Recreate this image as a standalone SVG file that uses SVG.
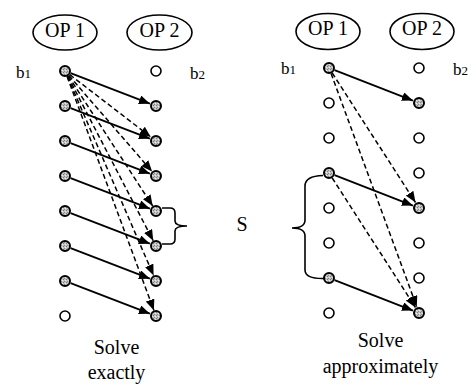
<svg xmlns="http://www.w3.org/2000/svg" width="476" height="391" viewBox="0 0 476 391">
  <style>
    text { font-family: "Liberation Serif", "Times New Roman", serif; fill: #000; }
    .op { font-size: 20px; text-anchor: middle; }
    .lbl { font-size: 17px; }
    .sub { font-size: 13px; }
    .cap { font-size: 20px; text-anchor: middle; }
    .oval { fill: #fff; stroke: #000; stroke-width: 1.6; }
    .full { fill: url(#speckle); stroke: #000; stroke-width: 2; }
    .empty { fill: #fff; stroke: #000; stroke-width: 1.6; }
    .solid { fill: none; stroke: #000; stroke-width: 1.8; marker-end: url(#head); }
    .dash { fill: none; stroke: #000; stroke-width: 1.5; stroke-dasharray: 5 3; marker-end: url(#head); }
    .brace { fill: none; stroke: #000; stroke-width: 1.6; }
  </style>
  <defs>
    <pattern id="speckle" width="3" height="3" patternUnits="userSpaceOnUse">
      <rect width="3" height="3" fill="#c4c4c4"/>
      <rect x="0" y="0" width="1" height="1" fill="#7a7a7a"/>
      <rect x="2" y="1" width="1" height="1" fill="#eeeeee"/>
      <rect x="1" y="2" width="1" height="1" fill="#8a8a8a"/>
    </pattern>
    <marker id="head" markerUnits="userSpaceOnUse" markerWidth="11" markerHeight="9" refX="11" refY="4.5" orient="auto">
      <path d="M0,0 L11,4.5 L0,9 z" fill="#000"/>
    </marker>
  </defs>

  <!-- Operation headers -->
  <g id="op1-left"><ellipse class="oval" cx="65" cy="32.5" rx="32" ry="17.5"/><text class="op" x="65" y="37">OP 1</text></g>
  <g id="op2-left"><ellipse class="oval" cx="159.5" cy="32.5" rx="32.5" ry="17.5"/><text class="op" x="159.5" y="37">OP 2</text></g>
  <g id="op1-right"><ellipse class="oval" cx="328" cy="31.5" rx="32" ry="18"/><text class="op" x="328" y="35">OP 1</text></g>
  <g id="op2-right"><ellipse class="oval" cx="422" cy="31.5" rx="32" ry="18"/><text class="op" x="422" y="35">OP 2</text></g>

  <!-- Buffer labels -->
  <text class="lbl" x="16" y="78">b<tspan class="sub">1</tspan></text>
  <text class="lbl" x="190" y="79">b<tspan class="sub">2</tspan></text>
  <text class="lbl" x="281" y="74">b<tspan class="sub">1</tspan></text>
  <text class="lbl" x="453" y="75">b<tspan class="sub">2</tspan></text>

  <!-- Connectors -->
  <g id="connectors">
    <!-- left: exact solution -->
    <path class="dash" d="M69.8,74.7 L150.8,137"/>
    <path class="dash" d="M68.9,75.5 L152.1,171.5"/>
    <path class="dash" d="M68.3,76 L152.7,206"/>
    <path class="dash" d="M67.8,76.3 L153.2,240.7"/>
    <path class="dash" d="M67.4,76.5 L153.6,275.5"/>
    <path class="dash" d="M67.1,76.6 L153.9,310.4"/>
    <path class="solid" d="M70.6,73.2 L149.9,103.7"/>
    <path class="solid" d="M70.6,108.2 L149.9,138.7"/>
    <path class="solid" d="M70.6,143.2 L149.9,173.7"/>
    <path class="solid" d="M70.6,178.2 L149.9,208.7"/>
    <path class="solid" d="M70.6,213.2 L149.9,243.7"/>
    <path class="solid" d="M70.6,248.2 L149.9,278.7"/>
    <path class="solid" d="M70.6,283.2 L149.9,313.7"/>
    <!-- right: approximate solution -->
    <path class="dash" d="M332.2,73 L415.5,202.5"/>
    <path class="dash" d="M331.1,73.6 L416.8,306.9"/>
    <path class="dash" d="M332.2,178 L415.5,307.5"/>
    <path class="solid" d="M334.6,70.2 L412.9,100.6"/>
    <path class="solid" d="M334.6,175.2 L412.9,205.6"/>
    <path class="solid" d="M334.6,280.2 L412.9,310.6"/>
  </g>

  <!-- Left OP 1 buffer slots -->
  <g id="l1-0"><circle class="full" cx="65" cy="71" r="5"/></g>
  <g id="l1-1"><circle class="full" cx="65" cy="106" r="5"/></g>
  <g id="l1-2"><circle class="full" cx="65" cy="141" r="5"/></g>
  <g id="l1-3"><circle class="full" cx="65" cy="176" r="5"/></g>
  <g id="l1-4"><circle class="full" cx="65" cy="211" r="5"/></g>
  <g id="l1-5"><circle class="full" cx="65" cy="246" r="5"/></g>
  <g id="l1-6"><circle class="full" cx="65" cy="281" r="5"/></g>
  <g id="l1-7"><circle class="empty" cx="65" cy="316" r="5"/></g>
  <!-- Left OP 2 buffer slots -->
  <g id="l2-0"><circle class="empty" cx="156" cy="71" r="5"/></g>
  <g id="l2-1"><circle class="full" cx="156" cy="106" r="5"/></g>
  <g id="l2-2"><circle class="full" cx="156" cy="141" r="5"/></g>
  <g id="l2-3"><circle class="full" cx="156" cy="176" r="5"/></g>
  <g id="l2-4"><circle class="full" cx="156" cy="211" r="5"/></g>
  <g id="l2-5"><circle class="full" cx="156" cy="246" r="5"/></g>
  <g id="l2-6"><circle class="full" cx="156" cy="281" r="5"/></g>
  <g id="l2-7"><circle class="full" cx="156" cy="316" r="5"/></g>

  <!-- Right OP 1 buffer slots -->
  <g id="r1-0"><circle class="full" cx="329" cy="68" r="5"/></g>
  <g id="r1-1"><circle class="empty" cx="329" cy="103" r="5"/></g>
  <g id="r1-2"><circle class="empty" cx="329" cy="138" r="5"/></g>
  <g id="r1-3"><circle class="full" cx="329" cy="173" r="5"/></g>
  <g id="r1-4"><circle class="empty" cx="329" cy="208" r="5"/></g>
  <g id="r1-5"><circle class="empty" cx="329" cy="243" r="5"/></g>
  <g id="r1-6"><circle class="full" cx="329" cy="278" r="5"/></g>
  <g id="r1-7"><circle class="empty" cx="329" cy="313" r="5"/></g>
  <!-- Right OP 2 buffer slots -->
  <g id="r2-0"><circle class="empty" cx="419" cy="68" r="5"/></g>
  <g id="r2-1"><circle class="full" cx="419" cy="103" r="5"/></g>
  <g id="r2-2"><circle class="empty" cx="419" cy="138" r="5"/></g>
  <g id="r2-3"><circle class="empty" cx="419" cy="173" r="5"/></g>
  <g id="r2-4"><circle class="full" cx="419" cy="208" r="5"/></g>
  <g id="r2-5"><circle class="empty" cx="419" cy="243" r="5"/></g>
  <g id="r2-6"><circle class="empty" cx="419" cy="278" r="5"/></g>
  <g id="r2-7"><circle class="full" cx="419" cy="313" r="5"/></g>

  <!-- Span S braces -->
  <g id="span-s">
    <path class="brace" d="M162,208 H170 Q175,208 175,213 V221 Q175,226 187,226 Q175,226 175,231 V239 Q175,244 170,244 H162"/>
    <path class="brace" d="M323,175.5 Q305,176 305,186 V220 Q305,228 292,228 Q305,228 305,236 V270 Q305,279 324,278.5"/>
    <text class="op" x="242" y="231">S</text>
  </g>

  <!-- Captions -->
  <text class="cap" x="116.5" y="354">Solve</text>
  <text class="cap" x="116.5" y="379">exactly</text>
  <text class="cap" x="380.5" y="347">Solve</text>
  <text class="cap" x="380.5" y="373">approximately</text>
</svg>
